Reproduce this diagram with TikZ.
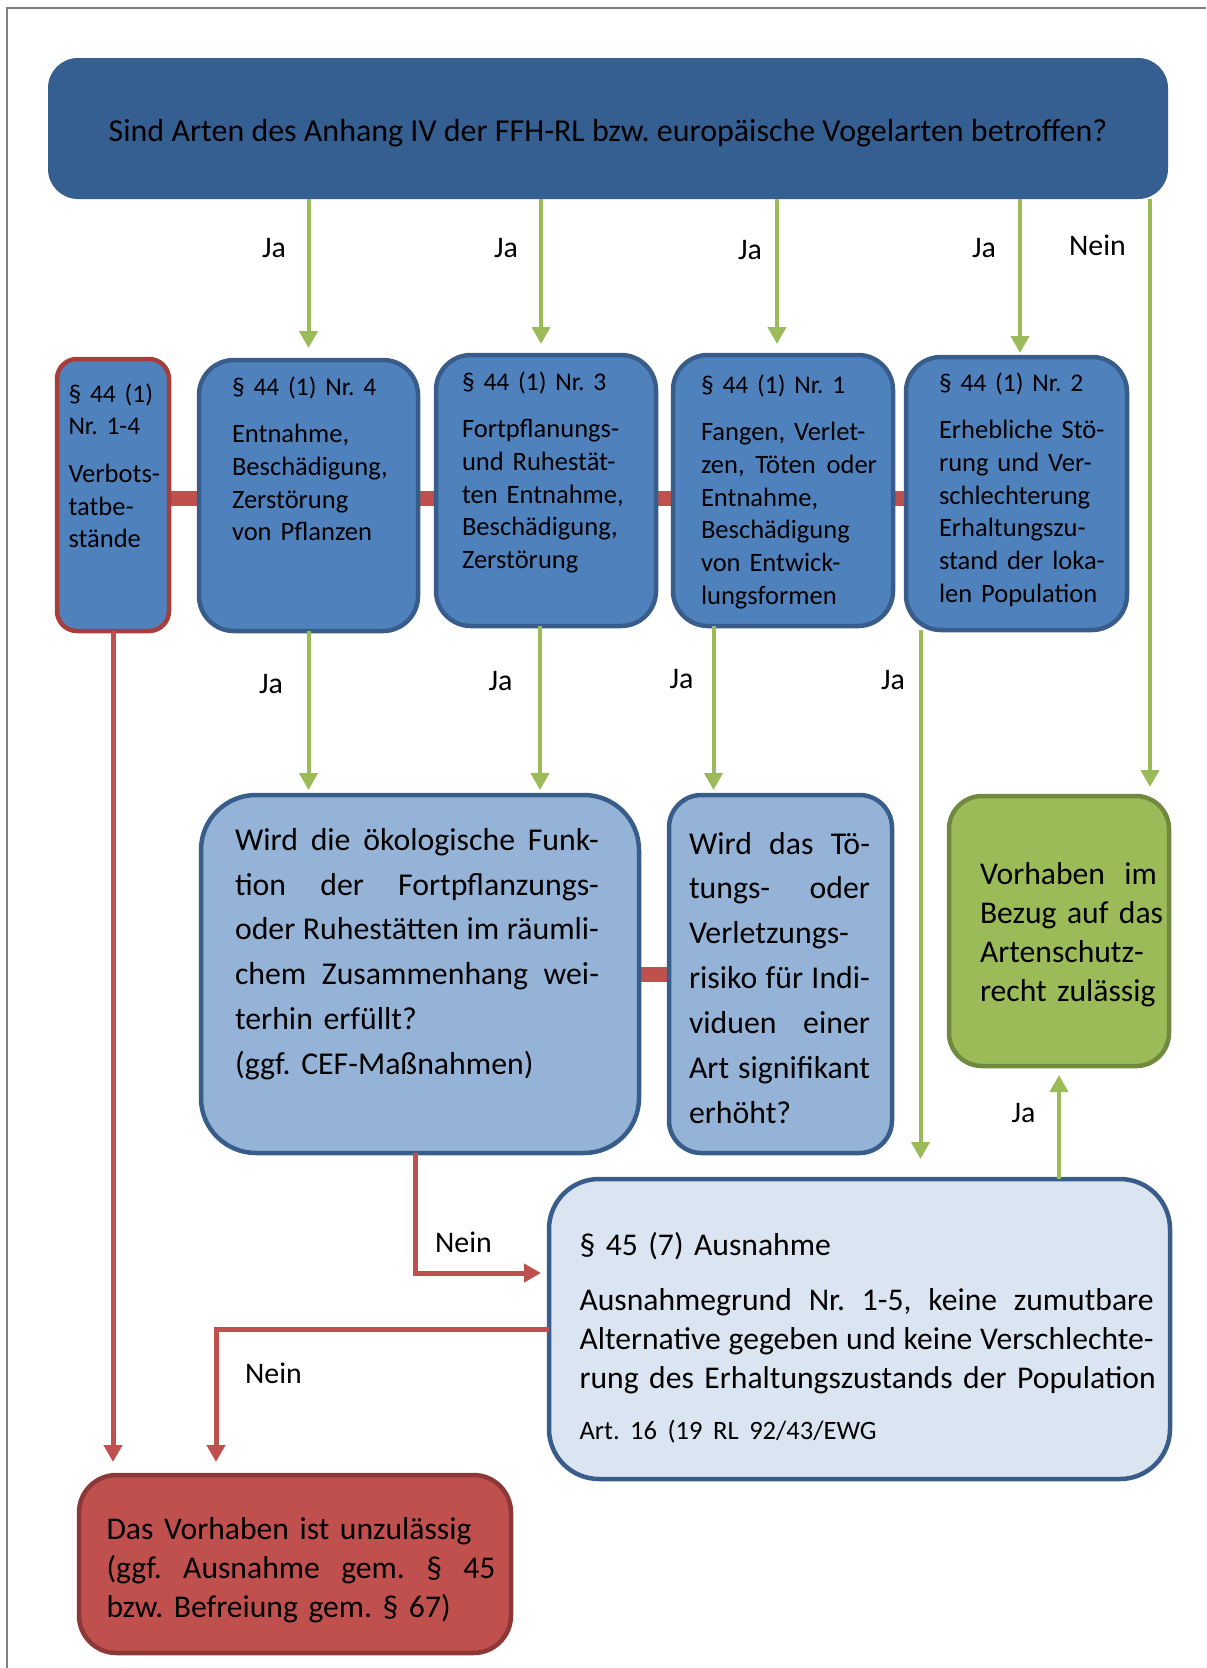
\documentclass[tikz,border=0pt]{standalone}
\usepackage{fontspec}
\setmainfont{Carlito}
\usepackage{tikz}
\usetikzlibrary{positioning,calc,arrows.meta,backgrounds}

\definecolor{topblue}{RGB}{54,95,145}
\definecolor{midblue}{RGB}{79,129,189}
\definecolor{edgeblue}{RGB}{56,93,138}
\definecolor{softblue}{RGB}{149,179,215}
\definecolor{paleblue}{RGB}{219,229,241}
\definecolor{leafgreen}{RGB}{155,187,89}
\definecolor{darkgreen}{RGB}{113,137,63}
\definecolor{brickred}{RGB}{192,80,77}
\definecolor{redline}{RGB}{168,62,60}
\definecolor{darkred}{RGB}{140,56,54}
\definecolor{framegray}{RGB}{128,128,128}

\frenchspacing
% justified line of given width
\newcommand{\jline}[2]{\makebox[#1][s]{\spaceskip=0pt\xspaceskip=0pt\relax #2}}
% paragraph heading in the small boxes
\newcommand{\parhead}[1]{{\fontsize{14.5}{18.6}\selectfont #1}}

\begin{document}
\begin{tikzpicture}[every node/.style={outer sep=0pt},
		box/.style={draw=edgeblue,line width=0.09cm,fill=midblue,rounded corners=0.7cm,inner sep=0pt},
		txt/.style={anchor=base west,inner sep=0pt},
		smalltxt/.style={font=\fontsize{15.1}{18.6}\selectfont},
		bigtxt/.style={font=\fontsize{18.1}{25.6}\selectfont},
		midtxt/.style={font=\fontsize{18}{22.2}\selectfont},
		answer/.style={font=\fontsize{17}{20}\selectfont,inner sep=0pt},
		yesarrow/.style={draw=leafgreen,line width=0.08cm,-{Triangle[width=0.36cm,length=0.34cm]}},
		noarrow/.style={draw=brickred,line width=0.1cm,-{Triangle[width=0.36cm,length=0.34cm]}},
		redbar/.style={draw=brickred,line width=0.3cm},
		]
		\useasboundingbox (0,0) rectangle (24.12,-33.36);
		\draw[framegray,line width=0.04cm] (0.15,-33.36) -- (0.15,-0.15) -- (24.12,-0.15);

		% question
		\node[box,draw=none,fill=topblue,rounded corners=0.6cm,minimum width=22.4cm,minimum height=2.82cm,text height=0.6cm,text depth=0.08cm,font=\fontsize{18.2}{21}\selectfont] (top) at (12.16,-2.57) {Sind Arten des Anhang IV der FFH-RL bzw. europäische Vogelarten betroffen?};

		% Verbotstatbestaende
		\node[box,draw=redline,rounded corners=0.4cm,minimum width=2.24cm,minimum height=5.44cm] (bA) at (2.26,-9.90) {};
		\node[box,minimum width=4.38cm,minimum height=5.42cm] (bB) at (6.17,-9.91) {};
		\node[box,minimum width=4.40cm,minimum height=5.42cm] (bC) at (10.92,-9.81) {};
		\node[box,minimum width=4.40cm,minimum height=5.42cm] (bD) at (15.66,-9.81) {};
		\node[box,minimum width=4.42cm,minimum height=5.46cm] (bE) at (20.33,-9.87) {};

		\node[txt,smalltxt,text width=2cm] (tA) at ($(bA.north west)+(0.23,-0.86)$) {\parhead{§ 44 (1)}\\\parhead{Nr. 1-4}\\[0.3cm]Verbots-\\tatbe-\\stände};
		\node[txt,smalltxt,text width=3.6cm] (tB) at ($(bB.north west)+(0.66,-0.70)$) {\parhead{§ 44 (1) Nr. 4}\\[0.3cm]Entnahme,\\Beschädigung,\\Zerstörung\\von Pflanzen};
		\node[txt,smalltxt,text width=3.8cm] (tC) at ($(bC.north west)+(0.52,-0.70)$) {\parhead{§ 44 (1) Nr. 3}\\[0.3cm]Fortpflanungs-\\und Ruhestät-\\ten Entnahme,\\Beschädigung,\\Zerstörung};
		\node[txt,smalltxt,text width=3.7cm] (tD) at ($(bD.north west)+(0.56,-0.76)$) {\parhead{§ 44 (1) Nr. 1}\\[0.3cm]Fangen, Verlet-\\\jline{3.52cm}{zen, Töten oder}\\Entnahme,\\Beschädigung\\von Entwick-\\lungsformen};
		\node[txt,smalltxt,text width=3.7cm] (tE) at ($(bE.north west)+(0.66,-0.68)$) {\parhead{§ 44 (1) Nr. 2}\\[0.3cm]Erhebliche Stö-\\rung und Ver-\\schlechterung\\Erhaltungszu-\\stand der loka-\\len Population};

		% Pruefung
		\node[box,fill=softblue,rounded corners=1.1cm,minimum width=8.76cm,minimum height=7.16cm] (bF) at (8.40,-19.48) {};
		\node[box,fill=softblue,rounded corners=0.65cm,minimum width=4.46cm,minimum height=7.16cm] (bG) at (15.61,-19.48) {};
		\node[box,draw=darkgreen,fill=leafgreen,rounded corners=0.66cm,minimum width=4.40cm,minimum height=5.40cm] (bH) at (21.18,-18.62) {};

		\node[txt,bigtxt,text width=7.4cm] (tF) at ($(bF.north west)+(0.68,-1.10)$) {\jline{7.28cm}{Wird die ökologische Funk-}\\\jline{7.28cm}{tion der Fortpflanzungs-}\\\jline{7.28cm}{oder Ruhestätten im räumli-}\\\jline{7.28cm}{chem Zusammenhang wei-}\\terhin erfüllt?\\(ggf. CEF-Maßnahmen)};
		\node[txt,bigtxt,text width=3.8cm] (tG) at ($(bG.north west)+(0.40,-1.18)$) {\jline{3.62cm}{Wird das Tö-}\\\jline{3.62cm}{tungs- oder}\\Verletzungs-\\\jline{3.62cm}{risiko für Indi-}\\\jline{3.62cm}{viduen einer}\\\jline{3.62cm}{Art signifikant}\\erhöht?};
		\node[txt,font=\fontsize{18}{22.2}\selectfont,text width=3.7cm] (tH) at ($(bH.north west)+(0.62,-1.76)$) {\jline{3.54cm}{Vorhaben im}\\\mbox{Bezug auf das}\\Artenschutz-\\\mbox{recht zulässig}};

		% Ausnahme und Ergebnis
		\node[box,fill=paleblue,rounded corners=1.0cm,minimum width=12.42cm,minimum height=6.0cm] (bI) at (17.19,-26.58) {};
		\node[box,draw=darkred,fill=brickred,rounded corners=0.75cm,minimum width=8.64cm,minimum height=3.56cm] (bJ) at (5.90,-31.28) {};

		\node[txt,midtxt,text width=11.6cm] (tI) at ($(bI.north west)+(0.61,-1.52)$) {§ 45 (7) Ausnahme\\[0.32cm]\jline{11.48cm}{Ausnahmegrund Nr. 1-5, keine zumutbare}\\\jline{11.48cm}{Alternative gegeben und keine Verschlechte-}\\\mbox{rung des Erhaltungszustands der Population}\\[0.24cm]{\fontsize{15.1}{18}\selectfont Art. 16 (19 RL 92/43/EWG}};
		\node[txt,midtxt,text width=7.9cm] (tJ) at ($(bJ.north west)+(0.55,-1.28)$) {\mbox{Das Vorhaben ist unzulässig}\\\jline{7.78cm}{(ggf. Ausnahme gem. § 45}\\\mbox{bzw. Befreiung gem. § 67)}};

		\begin{scope}[on background layer]
			\draw[redbar] ($(bA.east)+(0,-0.06)$) -- ($(bA.east -| bE.west)+(0,-0.06)$);
			\draw[redbar] (bF.east) -- (bG.west);
		\end{scope}

		% Ja / Nein
		\draw[yesarrow,shorten >=0.24cm] (bB.north |- top.south) -- (bB.north);
		\draw[yesarrow,shorten >=0.22cm] ($(bC.north |- top.south)+(-0.1,0)$) -- ($(bC.north)+(-0.1,0)$);
		\draw[yesarrow,shorten >=0.22cm] ($(bD.north |- top.south)+(-0.12,0)$) -- ($(bD.north)+(-0.12,0)$);
		\draw[yesarrow,shorten >=0.08cm] ($(bE.north |- top.south)+(0.07,0)$) -- ($(bE.north)+(0.07,0)$);
		\draw[yesarrow,shorten >=0.18cm] ($(top.south -| bH.north east)+(-0.38,0)$) -- ($(bH.north east)+(-0.38,0)$);

		\draw[yesarrow,shorten >=0.1cm] (bB.south) -- (bB.south |- bF.north);
		\draw[yesarrow,shorten >=0.1cm] ($(bC.south)+(-0.12,0)$) -- ($(bC.south |- bF.north)+(-0.12,0)$);
		\draw[yesarrow,shorten >=0.1cm] ($(bD.south)+(-1.39,0)$) -- ($(bD.south |- bG.north)+(-1.39,0)$);
		\draw[yesarrow,shorten >=0.4cm] ($(bE.south)+(-1.92,0)$) -- ($(bE.south |- bI.north)+(-1.92,0)$);
		\draw[yesarrow,shorten >=0.18cm] (bH.south |- bI.north) -- (bH.south);

		\draw[noarrow,shorten >=0.16cm] ($(bF.south)+(-0.1,0)$) |- ($(bI.west)+(0,1.12)$);
		\draw[noarrow,shorten >=0.26cm] (bI.west) -| ($(bJ.north west)+(2.74,0)$);
		\draw[noarrow,shorten >=0.26cm] (bA.south) -- (bA.south |- bJ.north);

		\node[answer] (ja1) at (5.48,-4.96) {Ja};
		\node[answer] (ja2) at (10.12,-4.96) {Ja};
		\node[answer] (ja3) at (15.00,-5.00) {Ja};
		\node[answer] (ja4) at (19.68,-4.96) {Ja};
		\node[answer] (nein1) at (21.95,-4.91) {Nein};
		\node[answer] (ja5) at (5.42,-13.68) {Ja};
		\node[answer] (ja6) at (10.01,-13.62) {Ja};
		\node[answer] (ja7) at (13.63,-13.59) {Ja};
		\node[answer] (ja8) at (17.86,-13.61) {Ja};
		\node[answer] (ja9) at (20.47,-22.26) {Ja};
		\node[answer] (nein2) at (9.27,-24.84) {Nein};
		\node[answer] (nein3) at (5.47,-27.46) {Nein};
	\end{tikzpicture}
\end{document}
